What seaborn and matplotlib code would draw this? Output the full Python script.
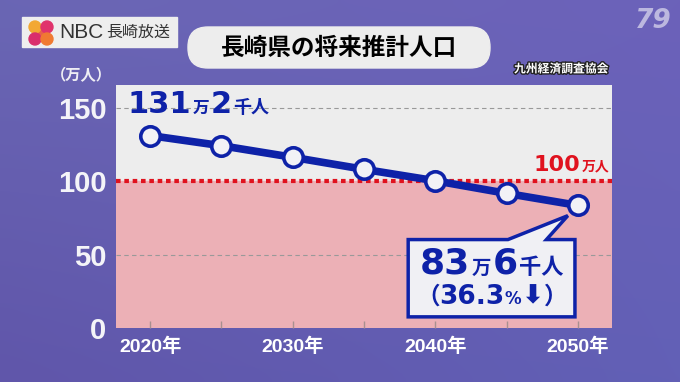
import numpy as np
import matplotlib
matplotlib.use("Agg")
import matplotlib.pyplot as plt
import seaborn as sns
from matplotlib.patches import Rectangle, FancyBboxPatch, Circle, Polygon
from matplotlib.offsetbox import TextArea, HPacker, VPacker, AnnotationBbox
import matplotlib.patheffects as pe

years = [2020, 2025, 2030, 2035, 2040, 2045, 2050]
population = [131.2, 124.3, 116.4, 108.2, 100.4, 91.8, 83.6]
yticks = [0, 50, 100, 150]
xticks = [2020, 2030, 2040, 2050]
xtick_labels = ["2020年", "2030年", "2040年", "2050年"]
minor_xticks = [2025, 2035, 2045]
threshold = 100

BLUE = "#0E22A8"
RED = "#E0121E"
PINK = "#ECB0B6"
GRAY = "#EDEDED"
JP = ["Noto Sans CJK JP", "DejaVu Sans"]
NUM = ["DejaVu Sans", "Noto Sans CJK JP"]
TICK = ["Liberation Sans", "Noto Sans CJK JP"]

sns.set_theme(style="white")
plt.rcParams["font.family"] = JP

fig = plt.figure(figsize=(6.8, 3.82), dpi=100)

# background in pixel coords
bg = fig.add_axes([0, 0, 1, 1], zorder=0)
bg.set_xlim(0, 680)
bg.set_ylim(382, 0)
bg.axis("off")
tl, tr = np.array([106, 102, 180]), np.array([108, 98, 186])
bl, br = np.array([96, 86, 170]), np.array([98, 96, 182])
u = np.linspace(0, 1, 68)[None, :, None]
v = np.linspace(0, 1, 38)[:, None, None]
grad = (tl * (1 - u) * (1 - v) + tr * u * (1 - v) + bl * (1 - u) * v + br * u * v) / 255
bg.imshow(grad, extent=(0, 680, 382, 0), aspect="auto", interpolation="bicubic")

# NBC logo
bg.add_patch(Rectangle((22, 17), 155, 30, color="#EEEEEE"))
bg.add_patch(Rectangle((35, 27), 12, 12, color="#E8604A"))
for (cx, cy), c in zip([(35, 27), (47, 27), (35, 39), (47, 39)],
                       ["#F2A833", "#E0346C", "#D92E6C", "#F07A32"]):
    bg.add_patch(Circle((cx, cy), 6, color=c))
bg.text(59, 32.5, "NBC", fontsize=15, color="#333333", family=["Liberation Sans"],
        va="center", ha="left")
bg.text(106, 32.5, "長崎放送", fontsize=11.5, color="#333333", va="center", ha="left")

# title
bg.add_patch(FancyBboxPatch((188, 27), 302, 41,
                            boxstyle="round,pad=0,rounding_size=20", color=GRAY))
bg.text(339, 48, "長崎県の将来推計人口", fontsize=17, weight="bold", color="black",
        ha="center", va="center")
bg.text(561, 69, "九州経済調査協会", fontsize=8.5, weight="bold", color="white",
        ha="center", va="center",
        path_effects=[pe.withStroke(linewidth=2, foreground="#222222")])
bg.text(81, 75, "（万人）", fontsize=11, weight="bold", color="#EEEEF4",
        ha="center", va="center")
bg.text(653, 21, "79", fontsize=19, weight="bold", style="italic", color="white",
        alpha=0.55, family=["DejaVu Sans"], ha="center", va="center")

# main chart
ax = fig.add_axes([116 / 680, 54 / 382, 496 / 680, 243 / 382], zorder=2)
ax.set_facecolor(GRAY)
ax.set_xlim(2017.6, 2052.4)
ax.set_ylim(0, 165.7)
ax.axhspan(0, threshold, color=PINK, zorder=0)
for yv in [50, 150]:
    ax.axhline(yv, color="#999999", lw=0.8, ls=(0, (4, 3)), zorder=1)
ax.axhline(threshold, color=RED, lw=3, ls=(0, (1.1, 0.9)), zorder=2)

sns.lineplot(x=years, y=population, ax=ax, color=BLUE, linewidth=5.5,
             marker="o", markersize=14, markerfacecolor="#F2F2F6",
             markeredgecolor=BLUE, markeredgewidth=2.6, zorder=4)

for s in ax.spines.values():
    s.set_visible(False)
ax.set_xticks(xticks, xtick_labels)
ax.set_xticks(minor_xticks, minor=True)
ax.tick_params(axis="x", which="both", direction="in", length=5, color="#A89090",
               width=1, bottom=True, pad=7, labelsize=14, labelcolor="white")
for lbl in ax.get_xticklabels():
    lbl.set_family(TICK)
    lbl.set_weight("bold")
ax.set_yticks(yticks, [str(t) for t in yticks])
ax.tick_params(axis="y", length=0, pad=7, labelsize=21, labelcolor="#F4F4F8")
for lbl in ax.get_yticklabels():
    lbl.set_family(TICK)
    lbl.set_weight("bold")
ax.set_xlabel("")
ax.set_ylabel("")


def piece(txt, size, color, fam=NUM):
    return TextArea(txt, textprops=dict(fontsize=size, color=color, weight="bold",
                                        family=fam))


def label(parts, xy, align, color):
    box = HPacker(children=[piece(t, s, color, f) for t, s, f in parts],
                  align="baseline", pad=0, sep=1)
    ab = AnnotationBbox(box, xy, xycoords="data", box_alignment=align,
                        frameon=False, pad=0, zorder=6)
    ax.add_artist(ab)


# first value label
label([("131", 22, NUM), ("万", 12, JP), ("2", 22, NUM), ("千人", 13, JP)],
      (2018.4, 142.5), (0, 0), BLUE)

# threshold label
label([("100", 16, NUM), ("万人", 10, JP)], (2052.2, 104.5), (1, 0), RED)

# callout for last value
x0, x1, y0, y1 = 2038.1, 2049.8, 7.6, 60.3
bubble = Polygon([(x0, y0), (x1, y0), (x1, y1), (2047.8, y1),
                  (years[-1] - 0.7, population[-1] - 7), (2045.1, y1), (x0, y1)],
                 closed=True, facecolor="#F0F0F4", edgecolor=BLUE, lw=2.5, zorder=5)
ax.add_patch(bubble)
line1 = HPacker(children=[piece("83", 26, BLUE), piece("万", 14, BLUE, JP),
                          piece("6", 26, BLUE), piece("千人", 16, BLUE, JP)],
                align="baseline", pad=0, sep=1)
line2 = HPacker(children=[piece("（", 17, BLUE, JP), piece("36.3", 19, BLUE),
                          piece("%", 12, BLUE), piece("⬇", 19, BLUE),
                          piece("）", 17, BLUE, JP)],
                align="baseline", pad=0, sep=0)
call = VPacker(children=[line1, line2], align="center", pad=0, sep=2)
ax.add_artist(AnnotationBbox(call, ((x0 + x1) / 2, (y0 + y1) / 2), xycoords="data",
                             box_alignment=(0.5, 0.5), frameon=False, pad=0, zorder=6))

fig.savefig("out.png", dpi=100)
